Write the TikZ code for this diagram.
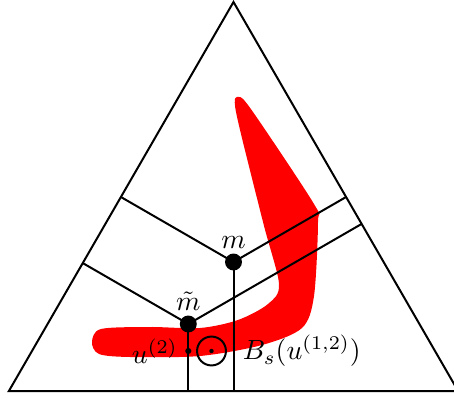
\documentclass[tikz,border=0pt]{standalone}
\usepackage{amsmath}
\usepackage{amssymb}
\usepackage{xcolor}
\usepackage{tikz}
\usetikzlibrary{calc,positioning}

\begin{document}
\begin{tikzpicture}[x=0.36pt, y=-0.36pt, line width=0.72pt, dot/.style={circle,fill,inner sep=0pt,minimum size=#1}, lbl/.style={inner sep=1pt}]
\useasboundingbox (0,0) rectangle (454,401);
\coordinate (A) at (8.9,391); \coordinate (B) at (458.1,391); \coordinate (C) at (233.5,2);
% the red region
\fill[red] plot[smooth cycle, tension=0.5] coordinates {(239,97) (253,112) (314,204) (318,222) (314,296) (302,328) (262,345) (200,356) (130,357) (99,354) (92,342) (101,329) (150,327) (200,328) (238,320) (268,304) (279,284) (263,222) (236,112)};
\draw (A) -- (B) -- (C) -- cycle;
\node[dot=6.1pt] (m) at (233.5,262) {};
\node[dot=6.1pt] (mt) at (188.3,324) {};
\node[lbl,above=0pt of m] (mlabel) {$m$};
\node[lbl,above=0pt of mt] (mtlabel) {$\tilde{m}$};
\coordinate (mL) at ($(A)!(m)!(C)$); \coordinate (mR) at ($(B)!(m)!(C)$);
\coordinate (mtL) at ($(A)!(mt)!(C)$); \coordinate (mtR) at ($(B)!(mt)!(C)$);
\draw (mL) -- (m.center) -- (mR); \draw (m.center) -- (m |- A);
\draw (mtL) -- (mt.center) -- (mtR); \draw (mt.center) -- (mt |- A);
\node[dot=2.2pt] (u2) at (188.3,351) {};
\node[lbl,left=1pt of u2] (u2label) {$u^{(2)}$};
\node[circle,draw,inner sep=0pt,minimum size=10.4pt] (ball) at (211.5,351) {};
\node[dot=1.6pt] (ballc) at (ball.center) {};
\node[right=2pt of ball] (balllabel) {$B_s(u^{(1,2)})$};
\end{tikzpicture}
\end{document}
